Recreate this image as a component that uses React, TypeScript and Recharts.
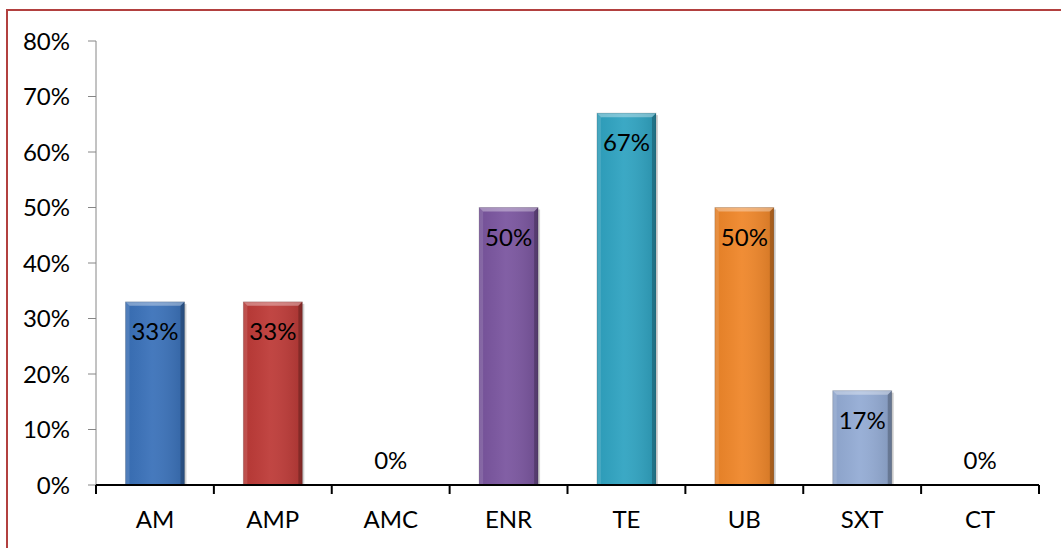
import React from "react";
import { BarChart, Bar, XAxis, YAxis, Cell, LabelList } from "recharts";

// categories and their shares
const categories = ["AM", "AMP", "AMC", "ENR", "TE", "UB", "SXT", "CT"];
const shares = [0.33, 0.33, 0, 0.5, 0.67, 0.5, 0.17, 0];
const yTicks = [0, 0.1, 0.2, 0.3, 0.4, 0.5, 0.6, 0.7, 0.8];

const palette = ["#3a71b9", "#bd3a37", "#c0504d", "#7a559f", "#2fa3c1", "#ef8629", "#93abd4", "#4bacc6"];

const W = 1061;
const H = 548;
const X_AXIS_H = 63;
const MARGIN = { top: 41, right: 22, bottom: 0, left: 0 };
const Y_AXIS_W = 96;
const PLOT_W = W - MARGIN.left - MARGIN.right - Y_AXIS_W;
const BAND = PLOT_W / categories.length;
const FONT = "Lato, 'Noto Sans', sans-serif";
const FONT_SIZE = 24;

const data = categories.map((name, i) => ({ name, value: shares[i] }));

const pct = (v: number) => `${Math.round(v * 100)}%`;

// beveled bar, lighter on top/left, darker on the right
const BevelBar = (props: any) => {
  const { x, y, width, height, fill } = props;
  if (!height || height <= 0) return null;
  const b = 4;
  return (
    <g>
      <rect x={x + 2} y={y + 2} width={width} height={height - 1} fill="#000" opacity={0.18} />
      <rect x={x} y={y} width={width} height={height} fill={fill} />
      <rect x={x} y={y} width={width} height={height} fill="url(#barSheen)" />
      <polygon
        points={`${x},${y} ${x + width},${y} ${x + width - b},${y + b} ${x + b},${y + b}`}
        fill="#fff"
        opacity={0.35}
      />
      <polygon
        points={`${x},${y} ${x + b},${y + b} ${x + b},${y + height} ${x},${y + height}`}
        fill="#fff"
        opacity={0.12}
      />
      <polygon
        points={`${x + width},${y} ${x + width - b},${y + b} ${x + width - b},${y + height} ${x + width},${y + height}`}
        fill="#000"
        opacity={0.22}
      />
      <rect x={x} y={y} width={width} height={height} fill="none" stroke="#000" strokeOpacity={0.15} />
    </g>
  );
};

const BarValue = (props: any) => {
  const { x, y, width, value } = props;
  const zero = !value;
  return (
    <text
      x={x + width / 2}
      y={zero ? y - 16 : y + 38}
      textAnchor="middle"
      fontSize={FONT_SIZE}
      fontFamily={FONT}
      fill="#000"
    >
      {pct(value)}
    </text>
  );
};

const CategoryTick = (props: any) => {
  const { x, y, payload, index } = props;
  const left = x - BAND / 2;
  return (
    <g>
      <line x1={left} y1={y} x2={left} y2={y + 9} stroke="#000" strokeWidth={2} />
      {index === categories.length - 1 && (
        <line x1={x + BAND / 2} y1={y} x2={x + BAND / 2} y2={y + 9} stroke="#000" strokeWidth={2} />
      )}
      <text x={x} y={y + 43} textAnchor="middle" fontSize={FONT_SIZE} fontFamily={FONT} fill="#000">
        {payload.value}
      </text>
    </g>
  );
};

export default function App() {
  return (
    <div
      style={{
        position: "absolute",
        left: 0,
        top: 0,
        width: W,
        height: H,
        overflow: "hidden",
        background: "#fff",
      }}
    >
      <div
        style={{
          position: "absolute",
          left: 6,
          top: 9,
          width: W + 20,
          height: H + 20,
          border: "2px solid #b2403f",
          boxSizing: "border-box",
        }}
      />
      <BarChart
        width={W}
        height={H}
        data={data}
        margin={MARGIN}
        barCategoryGap="25%"
        style={{ position: "absolute", left: 0, top: 0 }}
      >
        <defs>
          <linearGradient id="barSheen" x1="0" y1="0" x2="1" y2="0">
            <stop offset="0%" stopColor="#000" stopOpacity={0.05} />
            <stop offset="45%" stopColor="#fff" stopOpacity={0.06} />
            <stop offset="100%" stopColor="#000" stopOpacity={0.12} />
          </linearGradient>
        </defs>
        <YAxis
          width={Y_AXIS_W}
          domain={[0, 0.8]}
          ticks={yTicks}
          tickFormatter={pct}
          stroke="#868686"
          tickSize={8}
          tickMargin={18}
          tick={{ fill: "#000", fontSize: FONT_SIZE, fontFamily: FONT }}
          interval={0}
        />
        <XAxis
          dataKey="name"
          height={X_AXIS_H}
          stroke="#000"
          strokeWidth={2}
          tickLine={false}
          tickSize={0}
          tickMargin={0}
          interval={0}
          tick={<CategoryTick />}
        />
        <Bar dataKey="value" shape={<BevelBar />} isAnimationActive={false}>
          {data.map((d, i) => (
            <Cell key={d.name} fill={palette[i]} />
          ))}
          <LabelList dataKey="value" content={<BarValue />} />
        </Bar>
      </BarChart>
    </div>
  );
}
